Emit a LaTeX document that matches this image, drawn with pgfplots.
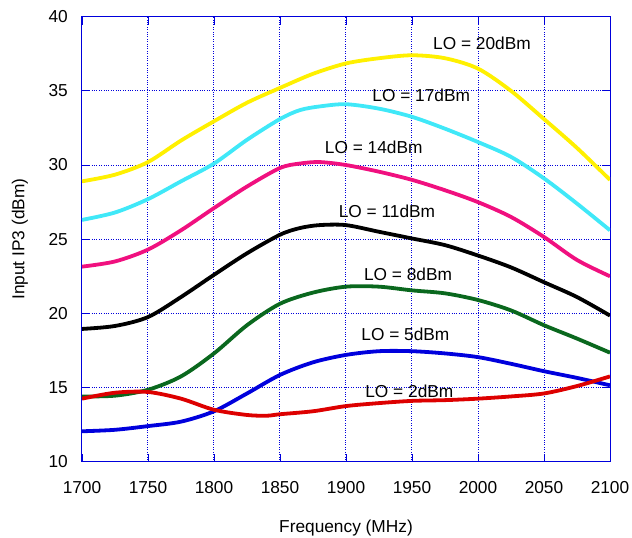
\documentclass[border=0pt]{standalone}
\usepackage{fontspec}
\setmainfont{Liberation Sans}
\usepackage{pgfplots}
\pgfplotsset{compat=1.18}
\definecolor{cYel}{RGB}{255,240,0}
\definecolor{cCya}{RGB}{64,232,248}
\definecolor{cMag}{RGB}{240,16,127}
\definecolor{cGre}{RGB}{10,104,30}
\definecolor{cBlu}{RGB}{0,0,221}
\definecolor{cRed}{RGB}{221,0,0}
\definecolor{cAx}{RGB}{0,0,220}
\begin{document}
\fontsize{17.3}{20}\selectfont
\begin{tikzpicture}
\begin{axis}[
  scale only axis, width=528pt, height=445pt,
  xmin=1700, xmax=2100, ymin=10, ymax=40,
  xtick={1700,1750,...,2100}, ytick={10,15,...,40},
  /pgf/number format/assume math mode=true,
  /pgf/number format/set thousands separator={},
  axis line style={cAx, line width=1pt},
  grid=major, grid style={cAx, dotted, line width=1pt},
  tick style={cAx, line width=0.9pt}, major tick length=8pt, tick align=inside,
  xtick pos=both, ytick pos=both,
  ticklabel style={font=\fontsize{17.3}{20}\selectfont, text=black},
  yticklabel style={inner sep=0pt, xshift=-14pt},
  xticklabel style={inner sep=0pt, yshift=-20pt},
  xlabel={Frequency (MHz)}, ylabel={Input IP3 (dBm)},
  label style={font=\fontsize{17.3}{20}\selectfont},
  xlabel style={at={(rel axis cs:0.5,0)}, anchor=center, yshift=-66pt},
  ylabel style={at={(rel axis cs:0,0.5)}, anchor=center, yshift=62pt},
  every axis plot/.append style={line width=3.8pt, smooth, tension=0.5, mark=none},
]
\coordinate (bl) at (rel axis cs:0,0);
\coordinate (tr) at (rel axis cs:1,1);
\addplot[cYel] coordinates {(1700,28.9)(1725,29.35)(1750,30.2)(1775,31.65)(1800,32.95)(1825,34.2)(1850,35.2)(1875,36.15)(1900,36.85)(1925,37.2)(1950,37.4)(1975,37.2)(2000,36.5)(2025,35.0)(2050,33.1)(2075,31.15)(2100,29.0)};
\addplot[cCya] coordinates {(1700,26.3)(1725,26.8)(1750,27.7)(1775,28.9)(1800,30.1)(1825,31.7)(1850,33.1)(1865,33.7)(1880,33.95)(1900,34.1)(1925,33.8)(1950,33.25)(1975,32.45)(2000,31.55)(2025,30.55)(2050,29.1)(2075,27.4)(2100,25.6)};
\addplot[cMag] coordinates {(1700,23.15)(1725,23.5)(1750,24.3)(1775,25.6)(1800,27.1)(1825,28.55)(1850,29.8)(1865,30.1)(1880,30.2)(1900,30.0)(1925,29.55)(1950,29.0)(1975,28.3)(2000,27.5)(2025,26.5)(2050,25.15)(2075,23.6)(2100,22.5)};
\addplot[black] coordinates {(1700,18.95)(1725,19.15)(1750,19.75)(1775,21.1)(1800,22.6)(1825,24.05)(1850,25.3)(1865,25.75)(1880,25.95)(1900,25.95)(1925,25.5)(1950,25.05)(1975,24.6)(2000,23.9)(2025,23.1)(2050,22.1)(2075,21.1)(2100,19.85)};
\addplot[cGre] coordinates {(1700,14.4)(1725,14.45)(1750,14.85)(1775,15.75)(1800,17.3)(1825,19.2)(1850,20.65)(1875,21.4)(1900,21.8)(1925,21.8)(1950,21.55)(1975,21.35)(2000,20.9)(2025,20.2)(2050,19.2)(2075,18.3)(2100,17.35)};
\addplot[cBlu] coordinates {(1700,12.05)(1725,12.15)(1750,12.4)(1775,12.7)(1800,13.4)(1825,14.6)(1850,15.85)(1875,16.7)(1900,17.2)(1925,17.45)(1950,17.45)(1975,17.3)(2000,17.05)(2025,16.6)(2050,16.1)(2075,15.65)(2100,15.15)};
\addplot[cRed] coordinates {(1700,14.25)(1725,14.65)(1750,14.7)(1775,14.25)(1800,13.5)(1825,13.15)(1840,13.1)(1850,13.2)(1875,13.4)(1900,13.75)(1925,13.95)(1950,14.1)(1975,14.15)(2000,14.25)(2025,14.4)(2050,14.6)(2075,15.1)(2100,15.75)};
\node at (axis cs:2003,38.2) {LO = 20dBm};
\node at (axis cs:1957,34.67) {LO = 17dBm};
\node at (axis cs:1921,31.19) {LO = 14dBm};
\node at (axis cs:1931,26.85) {LO = 11dBm};
\node at (axis cs:1947,22.65) {LO = 8dBm};
\node at (axis cs:1945,18.6) {LO = 5dBm};
\node at (axis cs:1948,14.76) {LO = 2dBm};
\end{axis}
\pgfresetboundingbox
\path[use as bounding box] ([shift={(-82pt,-76.3pt)}]bl) rectangle ([shift={(22pt,16.7pt)}]tr);
\end{tikzpicture}
\end{document}
